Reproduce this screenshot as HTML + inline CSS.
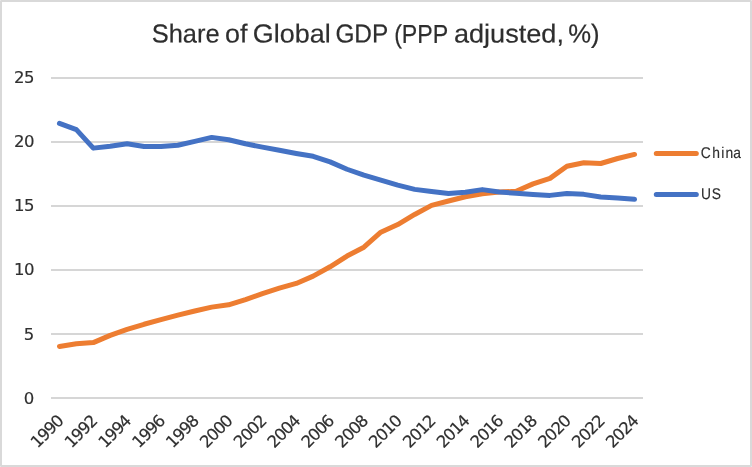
<!DOCTYPE html>
<html lang="en">
<head>
<meta charset="utf-8">
<title>Share of Global GDP (PPP adjusted, %)</title>
<style>
  html, body { margin: 0; padding: 0; background: #ffffff; }
  body { width: 752px; height: 467px; overflow: hidden; }
  svg { display: block; will-change: transform; transform: translateZ(0); font-family: "Liberation Sans", Arial, sans-serif; }
  .title { text-rendering: geometricPrecision; font-size: 26px; fill: #2e2e2e; stroke: #2e2e2e; stroke-width: 0.2px; }
  .axis text { font-family: "DejaVu Sans", "Liberation Sans", sans-serif; font-size: 16.5px; fill: #303030; stroke: #303030; stroke-width: 0.18px; }
  .legend text { text-rendering: geometricPrecision; font-size: 15.55px; fill: #2e2e2e; stroke: #2e2e2e; stroke-width: 0.15px; }
</style>
</head>
<body>
<svg width="752" height="467" viewBox="0 0 752 467">
  <rect x="0" y="0" width="752" height="467" fill="#d9d9d9"/>
  <rect x="2" y="2" width="748" height="463" fill="#ffffff"/>
  <g fill="#e5e5e5"><rect x="0" y="0" width="1" height="1"/><rect x="751" y="0" width="1" height="1"/><rect x="0" y="466" width="1" height="1"/><rect x="751" y="466" width="1" height="1"/></g>
<g transform="translate(0,0.5) rotate(0.03 376 42)">
  <text class="title" x="151.73" y="42" textLength="67.89" lengthAdjust="spacingAndGlyphs">Share</text>
  <text class="title" x="225.05" y="42" textLength="22.43" lengthAdjust="spacingAndGlyphs">of</text>
  <text class="title" x="252.89" y="42" textLength="77.88" lengthAdjust="spacingAndGlyphs">Global</text>
  <text class="title" x="335.38" y="42" textLength="52.88" lengthAdjust="spacingAndGlyphs">GDP</text>
  <text class="title" x="394.13" y="42" textLength="54.13" lengthAdjust="spacingAndGlyphs">(PPP</text>
  <text class="title" x="453.98" y="42" textLength="109.95" lengthAdjust="spacingAndGlyphs">adjusted,</text>
  <text class="title" x="568.25" y="42" textLength="31.39" lengthAdjust="spacingAndGlyphs">%)</text>
</g>
  <g class="grid">
    <rect x="51" y="77" width="592" height="2" fill="#d6d6d6"/>
    <rect x="51" y="141" width="592" height="2" fill="#d6d6d6"/>
    <rect x="51" y="205" width="592" height="2" fill="#d6d6d6"/>
    <rect x="51" y="269" width="592" height="2" fill="#d6d6d6"/>
    <rect x="51" y="333" width="592" height="2" fill="#d6d6d6"/>
    <rect x="51" y="397" width="592" height="2" fill="#d6d6d6"/>
  </g>
  <g class="axis yaxis">
    <text x="13.92" y="83.0" textLength="20.68" lengthAdjust="spacing">25</text>
    <text x="13.92" y="147.0" textLength="20.68" lengthAdjust="spacing">20</text>
    <text x="13.92" y="211.0" textLength="20.68" lengthAdjust="spacing">15</text>
    <text x="13.92" y="275.0" textLength="20.68" lengthAdjust="spacing">10</text>
    <text x="23.66" y="340.0" textLength="10.34" lengthAdjust="spacing">5</text>
    <text x="23.66" y="404.0" textLength="10.34" lengthAdjust="spacing">0</text>
  </g>
  <g class="axis xaxis">
    <text transform="translate(64.86,421.5) rotate(-45)" x="-38.63" y="0" textLength="38.63" lengthAdjust="spacing">1990</text>
    <text transform="translate(98.69,421.5) rotate(-45)" x="-38.63" y="0" textLength="38.63" lengthAdjust="spacing">1992</text>
    <text transform="translate(132.51,421.5) rotate(-45)" x="-38.63" y="0" textLength="38.63" lengthAdjust="spacing">1994</text>
    <text transform="translate(166.34,421.5) rotate(-45)" x="-38.63" y="0" textLength="38.63" lengthAdjust="spacing">1996</text>
    <text transform="translate(200.17,421.5) rotate(-45)" x="-38.63" y="0" textLength="38.63" lengthAdjust="spacing">1998</text>
    <text transform="translate(234.00,421.5) rotate(-45)" x="-38.63" y="0" textLength="38.63" lengthAdjust="spacing">2000</text>
    <text transform="translate(267.83,421.5) rotate(-45)" x="-38.63" y="0" textLength="38.63" lengthAdjust="spacing">2002</text>
    <text transform="translate(301.66,421.5) rotate(-45)" x="-38.63" y="0" textLength="38.63" lengthAdjust="spacing">2004</text>
    <text transform="translate(335.49,421.5) rotate(-45)" x="-38.63" y="0" textLength="38.63" lengthAdjust="spacing">2006</text>
    <text transform="translate(369.31,421.5) rotate(-45)" x="-38.63" y="0" textLength="38.63" lengthAdjust="spacing">2008</text>
    <text transform="translate(403.14,421.5) rotate(-45)" x="-38.63" y="0" textLength="38.63" lengthAdjust="spacing">2010</text>
    <text transform="translate(436.97,421.5) rotate(-45)" x="-38.63" y="0" textLength="38.63" lengthAdjust="spacing">2012</text>
    <text transform="translate(470.80,421.5) rotate(-45)" x="-38.63" y="0" textLength="38.63" lengthAdjust="spacing">2014</text>
    <text transform="translate(504.63,421.5) rotate(-45)" x="-38.63" y="0" textLength="38.63" lengthAdjust="spacing">2016</text>
    <text transform="translate(538.46,421.5) rotate(-45)" x="-38.63" y="0" textLength="38.63" lengthAdjust="spacing">2018</text>
    <text transform="translate(572.29,421.5) rotate(-45)" x="-38.63" y="0" textLength="38.63" lengthAdjust="spacing">2020</text>
    <text transform="translate(606.11,421.5) rotate(-45)" x="-38.63" y="0" textLength="38.63" lengthAdjust="spacing">2022</text>
    <text transform="translate(639.94,421.5) rotate(-45)" x="-38.63" y="0" textLength="38.63" lengthAdjust="spacing">2024</text>
  </g>
  <polyline fill="none" stroke="#ed7d31" stroke-width="5" stroke-linecap="round" stroke-linejoin="round" points="59.46,346.42 76.37,343.73 93.29,342.58 110.20,335.41 127.11,329.39 144.03,324.27 160.94,319.66 177.86,315.18 194.77,310.96 211.69,307.12 228.60,304.82 245.51,299.57 262.43,293.55 279.34,288.18 296.26,283.44 313.17,276.14 330.09,266.80 347.00,256.05 363.91,247.22 380.83,232.24 397.74,224.56 414.66,214.45 431.57,205.36 448.49,201.01 465.40,196.78 482.31,193.71 499.23,192.05 516.14,191.28 533.06,183.86 549.97,178.35 566.89,166.32 583.80,162.74 600.71,163.50 617.63,158.51 634.54,154.42"/>
  <polyline fill="none" stroke="#4472c4" stroke-width="5" stroke-linecap="round" stroke-linejoin="round" points="59.46,123.44 76.37,129.58 93.29,148.14 110.20,146.22 127.11,143.66 144.03,146.48 160.94,146.54 177.86,145.20 194.77,141.36 211.69,137.39 228.60,139.70 245.51,143.79 262.43,147.12 279.34,150.32 296.26,153.52 313.17,156.34 330.09,161.84 347.00,169.26 363.91,175.15 380.83,180.14 397.74,185.14 414.66,189.36 431.57,191.54 448.49,193.46 465.40,192.30 482.31,189.62 499.23,191.92 516.14,193.33 533.06,194.48 549.97,195.38 566.89,193.46 583.80,194.35 600.71,197.04 617.63,198.06 634.54,199.34"/>
  <g class="legend">
    <line x1="656.3" y1="153.5" x2="696.3" y2="153.5" stroke="#ed7d31" stroke-width="5" stroke-linecap="round"/>
    <text transform="translate(700.6,157.5) scale(0.89,1)" letter-spacing="1.0" dx="0.17 0.55 0.55 0.35 -1.0">China</text>
    <line x1="656.3" y1="194.4" x2="696.3" y2="194.4" stroke="#4472c4" stroke-width="5" stroke-linecap="round"/>
    <text transform="translate(701.05,198.5) scale(0.89,1)" letter-spacing="0.85">US</text>
  </g>
</svg>
</body>
</html>
